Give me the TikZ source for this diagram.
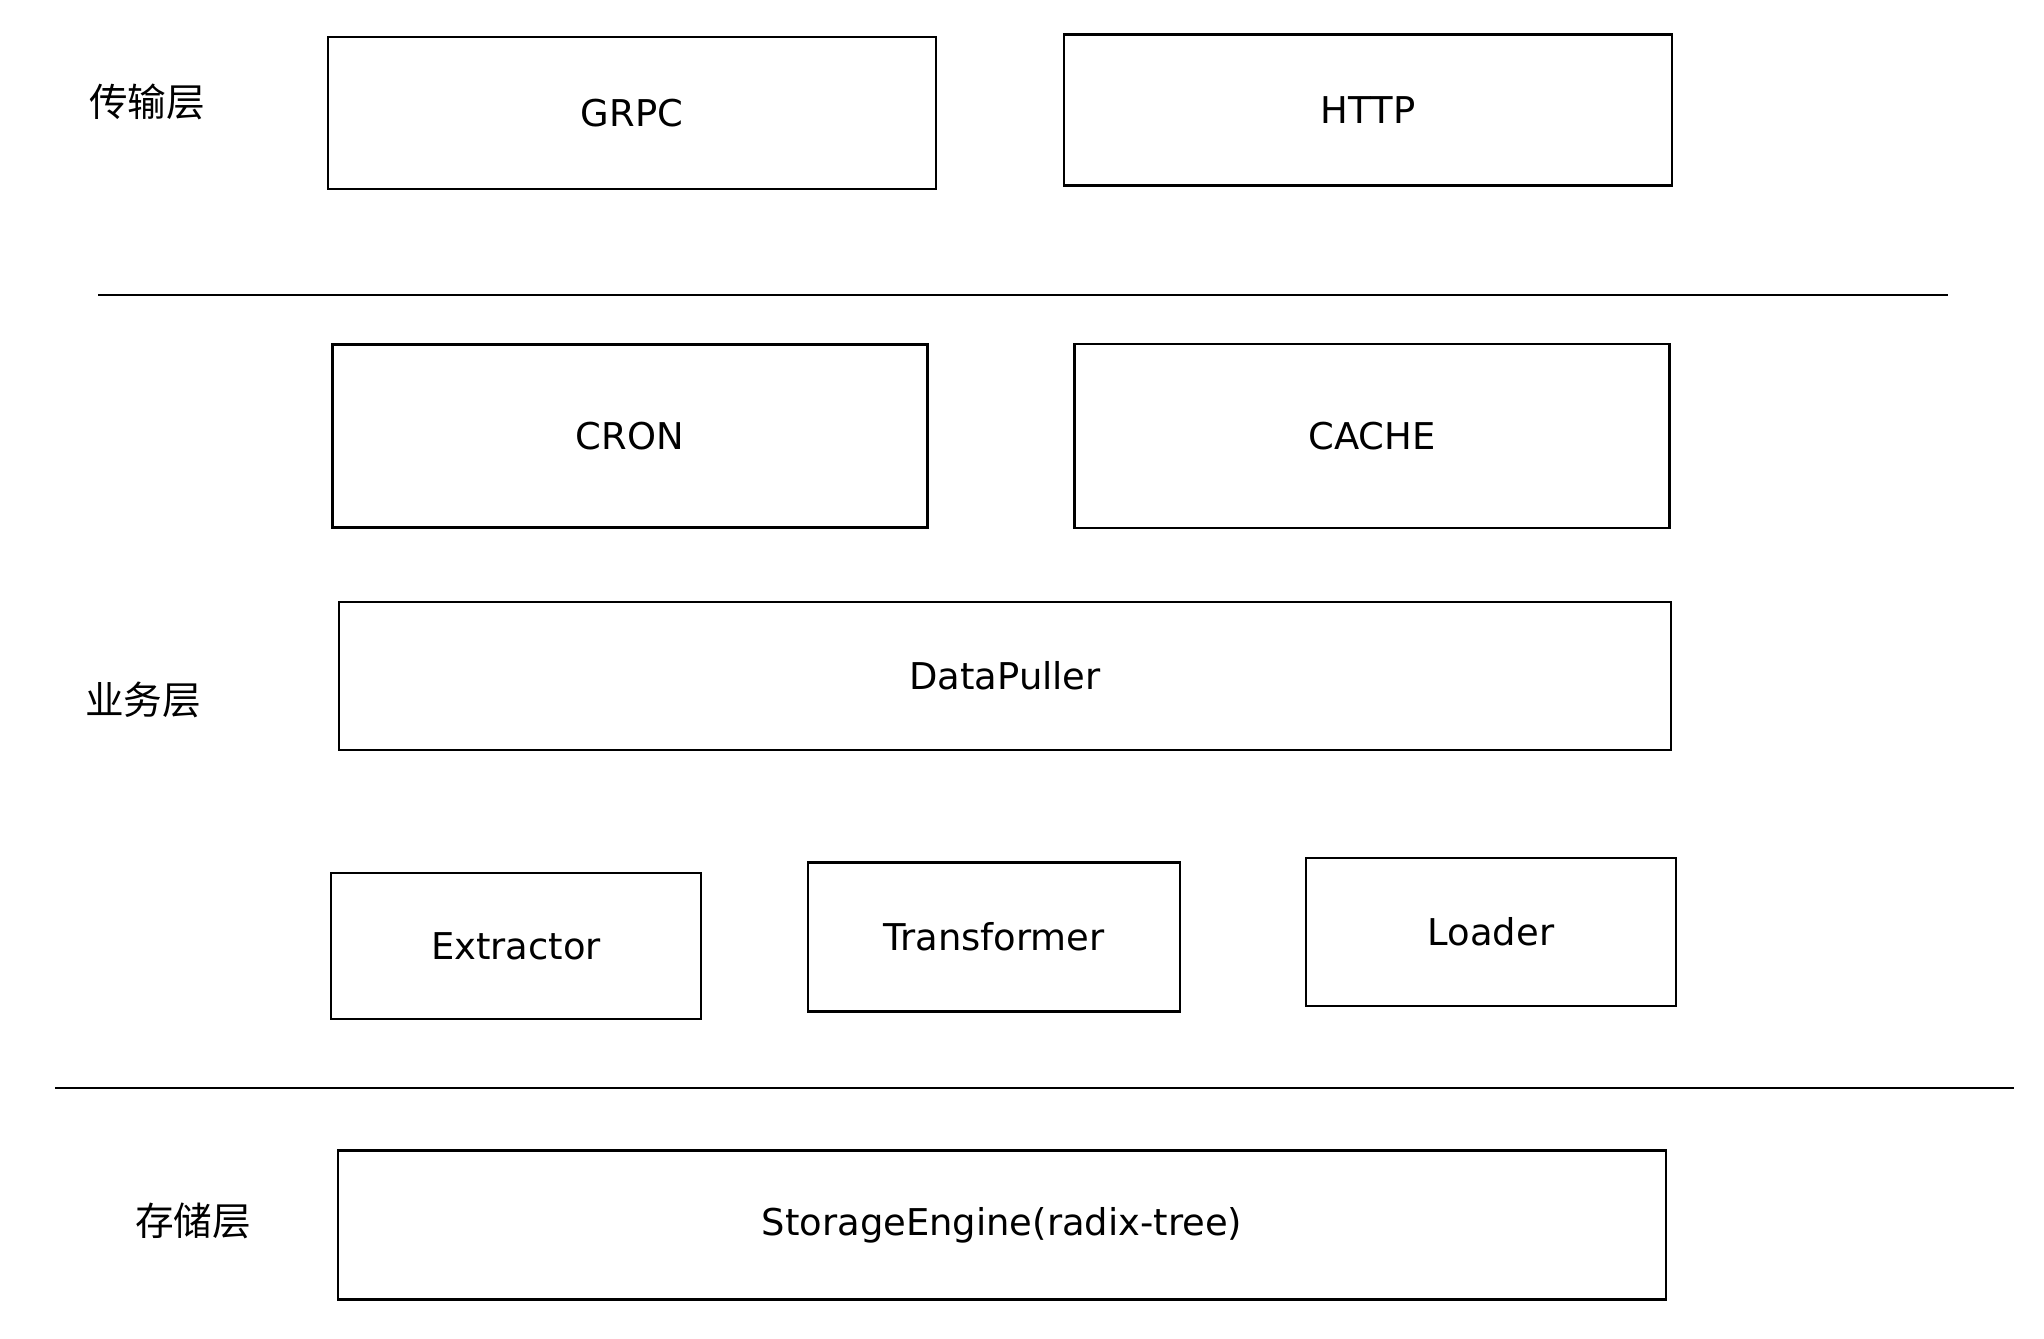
\documentclass[tikz,border=0pt]{standalone}
\usepackage{fontspec}
\setmainfont{DejaVu Sans}
\newfontfamily\cjk{Noto Sans CJK SC}
\usetikzlibrary{positioning}

\tikzset{
    layerbox/.style={draw, line width=0.8pt, inner sep=0pt, font=\fontsize{10.5}{12}\selectfont},
    layername/.style={font=\cjk\fontsize{11}{13}\selectfont},
    divider/.style={line width=0.8pt}
}

\begin{document}
\begin{tikzpicture}
    % Page frame
    \useasboundingbox (0,0) rectangle (20.44,-13.38);

    % Layer names
    \node[layername] (transport) at (1.47,-1.02) {传输层};
    \node[layername] (business)  at (1.43,-7.00) {业务层};
    \node[layername] (storage)   at (1.93,-12.21) {存储层};

    % Transport layer
    \node[layerbox, minimum width=6.08cm, minimum height=1.52cm] (grpc) at (6.32,-1.13) {GRPC};
    \node[layerbox, minimum width=6.08cm, minimum height=1.51cm] (http) at (13.68,-1.10) {HTTP};

    % Separator between transport and business
    \coordinate (sepAl) at (0.98,-2.95);
    \coordinate (sepAr) at (19.48,-2.95);
    \draw[divider] (sepAl) -- (sepAr);

    % Business layer
    \node[layerbox, minimum width=5.95cm, minimum height=1.83cm] (cron)  at (6.30,-4.36) {CRON};
    \node[layerbox, minimum width=5.95cm, minimum height=1.84cm] (cache) at (13.72,-4.36) {CACHE};
    \node[layerbox, minimum width=13.32cm, minimum height=1.48cm] (puller) at (10.05,-6.76) {DataPuller};

    \node[layerbox, minimum width=3.70cm, minimum height=1.46cm] (extract)   at (5.16,-9.46) {Extractor};
    \node[layerbox, minimum width=3.72cm, minimum height=1.49cm] (transform) at (9.94,-9.37) {Transformer};
    \node[layerbox, minimum width=3.70cm, minimum height=1.48cm] (load)      at (14.91,-9.32) {Loader};

    % Separator between business and storage
    \coordinate (sepBl) at (0.55,-10.88);
    \coordinate (sepBr) at (20.14,-10.88);
    \draw[divider] (sepBl) -- (sepBr);

    % Storage layer
    \node[layerbox, minimum width=13.28cm, minimum height=1.49cm] (engine) at (10.02,-12.25) {StorageEngine(radix-tree)};
\end{tikzpicture}
\end{document}
